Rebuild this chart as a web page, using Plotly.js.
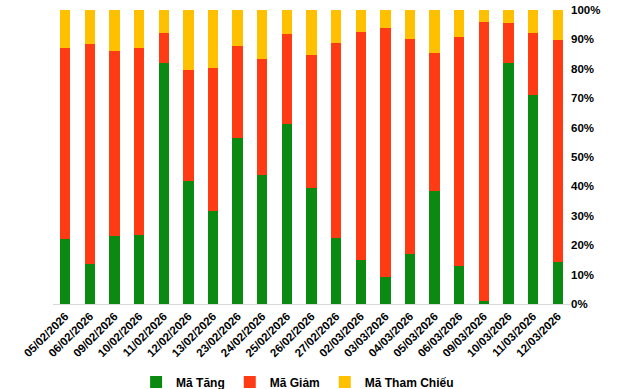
<!DOCTYPE html>
<html>
<head>
<meta charset="utf-8">
<script src="https://cdn.plot.ly/plotly-3.0.1.min.js"></script>
<style>html,body{margin:0;padding:0;background:#fff;}#chart{width:640px;height:389px;}</style>
</head>
<body>
<div id="chart"></div>
<script>
const dates = ["05/02/2026","06/02/2026","09/02/2026","10/02/2026","11/02/2026","12/02/2026","13/02/2026","23/02/2026","24/02/2026","25/02/2026","26/02/2026","27/02/2026","02/03/2026","03/03/2026","04/03/2026","05/03/2026","06/03/2026","09/03/2026","10/03/2026","11/03/2026","12/03/2026"];
const tang = [22.1,13.7,23.2,23.5,82.1,41.8,31.7,56.6,43.9,61.3,39.6,22.6,15.1,9.2,17.1,38.4,12.9,1.0,82.0,71.1,14.3];
const giam = [65.0,74.8,62.9,63.6,10.1,37.8,48.6,31.2,39.4,30.5,45.1,66.2,77.4,84.7,73.0,47.0,77.9,94.9,13.6,21.1,75.5];
const thamChieu = [12.9,11.5,13.9,12.9,7.8,20.4,19.7,12.2,16.7,8.2,15.3,11.2,7.5,6.1,9.9,14.6,9.2,4.1,4.4,7.8,10.2];
const names = ["Mã Tăng","Mã Giảm","Mã Tham Chiếu"];
const colors = ["#0B8A12","#FF3B14","#FFC000"];
const yTickVals = [0,10,20,30,40,50,60,70,80,90,100];
const yTickText = yTickVals.map(v => v + "%");

const series = [tang, giam, thamChieu];
const data = series.map((vals, i) => ({
  type: "bar",
  x: dates,
  y: vals,
  name: names[i],
  marker: {color: colors[i], line: {width: 0}},
  hoverinfo: "x+y+name"
}));

const fam = "Liberation Sans, Arial, sans-serif";
const layout = {
  width: 640, height: 389,
  margin: {l: 53, r: 70, t: 10, b: 85, autoexpand: false},
  paper_bgcolor: "#fff", plot_bgcolor: "#fff",
  barmode: "stack",
  bargap: 0.58,
  font: {family: fam, color: "#000", size: 11},
  showlegend: true,
  legend: {
    orientation: "h",
    xref: "container", yref: "container",
    x: 0.465, xanchor: "center", y: 0.018, yanchor: "middle",
    font: {family: fam, size: 12, color: "#000", weight: "bold"},
    itemwidth: 30, traceorder: "normal", tracegroupgap: 0
  },
  xaxis: {
    type: "category",
    automargin: false,
    tickangle: -45,
    tickfont: {family: fam, size: 11.5, weight: "bold", color: "#000"},
    showline: true, linecolor: "#d9d9d9", linewidth: 1,
    ticks: "", showgrid: false, zeroline: false
  },
  yaxis: {
    side: "right",
    automargin: false,
    range: [0, 100],
    tickmode: "array",
    tickvals: yTickVals,
    ticktext: yTickText,
    tickfont: {family: fam, size: 11.5, weight: "bold", color: "#000"},
    showgrid: false, zeroline: false, showline: false, ticks: ""
  }
};

Plotly.newPlot("chart", data, layout, {displayModeBar: false, staticPlot: true});
</script>
</body>
</html>
